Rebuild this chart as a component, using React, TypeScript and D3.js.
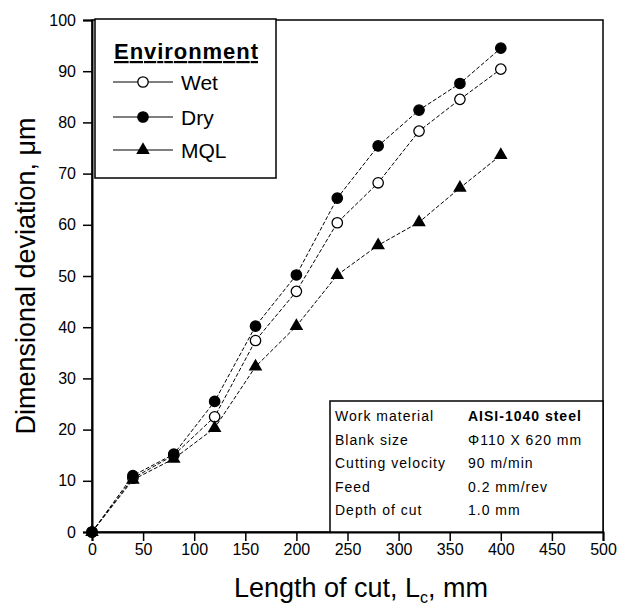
import { useEffect, useRef } from "react";
import * as d3 from "d3";

const lengths = [0, 40, 80, 120, 160, 200, 240, 280, 320, 360, 400];
const wet = [0, 10.5, 15, 22.5, 37.4, 47, 60.4, 68.2, 78.3, 84.5, 90.4];
const dry = [0, 11, 15.2, 25.5, 40.2, 50.2, 65.2, 75.4, 82.4, 87.6, 94.5];
const mql = [0, 10.2, 14.3, 20.3, 32.3, 40.2, 50.2, 56, 60.5, 67.2, 73.6];
const xTicks = [0, 50, 100, 150, 200, 250, 300, 350, 400, 450, 500];
const xTickLabels = ["0", "50", "100", "150", "200", "250", "300", "350", "400", "450", "500"];
const yTicks = [0, 10, 20, 30, 40, 50, 60, 70, 80, 90, 100];
const infoLabels = ["Work material", "Blank size", "Cutting velocity", "Feed", "Depth of cut"];
const infoValues = ["AISI-1040 steel", "\u03a6110 X 620 mm", "90 m/min", "0.2 mm/rev", "1.0 mm"];

const seriesNames = ["Wet", "Dry", "MQL"];

const App = () => {
  const ref = useRef<SVGSVGElement | null>(null);

  useEffect(() => {
    const svg = d3.select(ref.current);
    svg.selectAll("*").remove();

    const left = 92, right = 603, top = 20, bottom = 532;
    const x = d3.scaleLinear().domain([0, 500]).range([left, right]);
    const y = d3.scaleLinear().domain([0, 100]).range([bottom, top]);
    const font = "Liberation Sans, Arial, sans-serif";

    const series = [
      { name: "Wet", values: wet, marker: "open" },
      { name: "Dry", values: dry, marker: "dot" },
      { name: "MQL", values: mql, marker: "tri" },
    ];

    // frame
    svg.append("rect")
      .attr("x", left).attr("y", top)
      .attr("width", right - left).attr("height", bottom - top)
      .attr("fill", "none").attr("stroke", "black").attr("stroke-width", 1.5);

    // x axis
    const xAxis = svg.append("g").attr("transform", `translate(0,${bottom})`);
    xAxis.call(
      d3.axisBottom(x).tickValues(d3.range(0, 501, 25)).tickSize(6).tickFormat(() => "")
    );
    xAxis.call(
      d3.axisBottom(x).tickValues(xTicks).tickSize(9)
        .tickFormat((d, i) => xTickLabels[i])
    );
    xAxis.selectAll(".domain").attr("stroke-width", 2);
    xAxis.selectAll("line").attr("stroke-width", 1.5);
    xAxis.selectAll("text")
      .attr("font-family", font).attr("font-size", 16).attr("fill", "black")
      .attr("y", 12);

    // y axis
    const yAxis = svg.append("g").attr("transform", `translate(${left},0)`);
    yAxis.call(
      d3.axisLeft(y).tickValues(d3.range(0, 101, 5)).tickSize(6).tickFormat(() => "")
    );
    yAxis.call(d3.axisLeft(y).tickValues(yTicks).tickSize(9));
    yAxis.selectAll(".domain").attr("stroke-width", 2);
    yAxis.selectAll("line").attr("stroke-width", 1.5);
    yAxis.selectAll("text")
      .attr("font-family", font).attr("font-size", 16).attr("fill", "black")
      .attr("x", -16);

    // axis titles
    svg.append("text")
      .attr("transform", `translate(35,276) rotate(-90)`)
      .attr("text-anchor", "middle")
      .attr("font-family", font).attr("font-size", 27)
      .text("Dimensional deviation, \u03bcm");

    const xt = svg.append("text")
      .attr("x", 361).attr("y", 597)
      .attr("text-anchor", "middle")
      .attr("font-family", font).attr("font-size", 27);
    xt.append("tspan").text("Length of cut, L");
    xt.append("tspan").attr("font-size", 16).attr("dy", 6).text("c");
    xt.append("tspan").attr("dy", -6).text(", mm");

    // data lines
    const line = d3.line<number>()
      .x((d, i) => x(lengths[i]))
      .y((d) => y(d));

    const tri = d3.symbol().type(d3.symbolTriangle).size(80);

    const drawMarker = (g: any, kind: string, cx: number, cy: number) => {
      if (kind === "tri") {
        g.append("path").attr("d", tri()).attr("transform", `translate(${cx},${cy})`)
          .attr("fill", "black");
      } else {
        g.append("circle").attr("cx", cx).attr("cy", cy).attr("r", 5.2)
          .attr("fill", kind === "open" ? "white" : "black")
          .attr("stroke", "black").attr("stroke-width", 1.3);
      }
    };

    series.forEach((s) => {
      svg.append("path")
        .datum(s.values)
        .attr("d", line)
        .attr("fill", "none")
        .attr("stroke", "black")
        .attr("stroke-width", 1)
        .attr("stroke-dasharray", "4,2");
    });
    series.forEach((s) => {
      const g = svg.append("g");
      s.values.forEach((v, i) => drawMarker(g, s.marker, x(lengths[i]), y(v)));
    });

    // legend
    const lg = svg.append("g");
    lg.append("rect")
      .attr("x", 95).attr("y", 19).attr("width", 181).attr("height", 159)
      .attr("fill", "white").attr("stroke", "black").attr("stroke-width", 1.5);
    lg.append("text")
      .attr("x", 114).attr("y", 59)
      .attr("font-family", font).attr("font-size", 22).attr("font-weight", "bold")
      .attr("text-decoration", "underline")
      .attr("textLength", 144).attr("lengthAdjust", "spacing")
      .text("Environment");
    const legendY = [82, 117, 150];
    series.forEach((s, i) => {
      const yy = legendY[i];
      lg.append("line").attr("x1", 113).attr("x2", 173).attr("y1", yy).attr("y2", yy)
        .attr("stroke", "black").attr("stroke-width", 1.2);
      drawMarker(lg, s.marker, 143, yy);
      lg.append("text")
        .attr("x", 181).attr("y", yy + 7.5)
        .attr("font-family", font).attr("font-size", 21)
        .text(seriesNames[i]);
    });

    // info box
    const ib = svg.append("g");
    ib.append("rect")
      .attr("x", 330).attr("y", 401).attr("width", 273).attr("height", 131)
      .attr("fill", "white").attr("stroke", "black").attr("stroke-width", 1.5);
    infoLabels.forEach((lab, i) => {
      const yy = 421 + i * 23.5;
      ib.append("text").attr("x", 335).attr("y", yy)
        .attr("font-family", font).attr("font-size", 14)
        .attr("letter-spacing", 1)
        .text(lab);
      ib.append("text").attr("x", 468).attr("y", yy)
        .attr("font-family", font).attr("font-size", 14)
        .attr("letter-spacing", 1)
        .attr("font-weight", i === 0 ? "bold" : "normal")
        .text(infoValues[i]);
    });
  }, []);

  return <svg ref={ref} width={617} height={607} style={{ display: "block", position: "absolute", left: 0, top: 0, background: "white" }} />;
};

export default App;
